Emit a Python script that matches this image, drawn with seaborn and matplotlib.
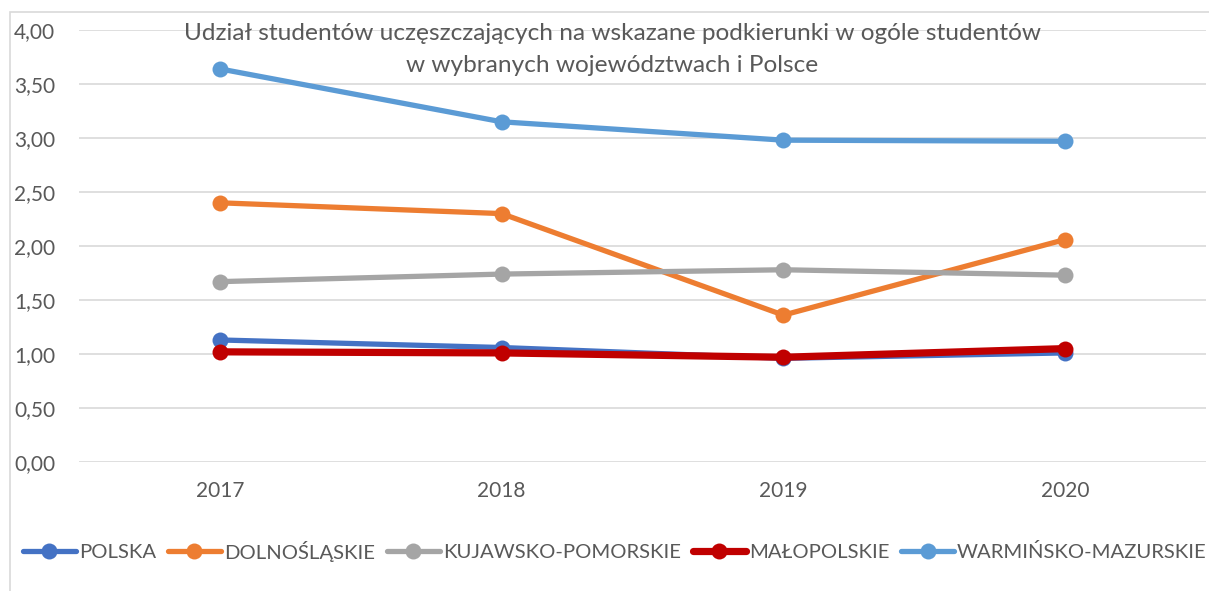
import pandas as pd
import matplotlib.pyplot as plt
import matplotlib.patches as mpatches
import seaborn as sns

years = ["2017", "2018", "2019", "2020"]
polska = [1.13, 1.06, 0.96, 1.01]
dolnoslaskie = [2.40, 2.30, 1.36, 2.06]
kujawsko = [1.67, 1.74, 1.78, 1.73]
malopolskie = [1.02, 1.01, 0.97, 1.05]
warminsko = [3.64, 3.15, 2.98, 2.97]

series = {
    "POLSKA": polska,
    "DOLNOŚLĄSKIE": dolnoslaskie,
    "KUJAWSKO-POMORSKIE": kujawsko,
    "MAŁOPOLSKIE": malopolskie,
    "WARMIŃSKO-MAZURSKIE": warminsko,
}
colors = ["#4472c4", "#ed7d31", "#a5a5a5", "#c00000", "#5b9bd5"]
widths = [3.8, 3.8, 3.8, 5.2, 3.8]

rows = []
for name, vals in series.items():
    for yr, v in zip(years, vals):
        rows.append({"rok": yr, "wartosc": v, "region": name})
df = pd.DataFrame(rows)

sns.set_style("white")
plt.rcParams["font.family"] = ["Lato", "DejaVu Sans"]
txt = "#595959"

fig = plt.figure(figsize=(12.09, 5.91), dpi=100)
ax = fig.add_axes([79 / 1209, 1 - 462 / 591, 1127 / 1209, 432 / 591])

# one call per region so the red line can be drawn thicker
for (name, vals), c, w in zip(series.items(), colors, widths):
    sub = df[df["region"] == name]
    sns.lineplot(data=sub, x="rok", y="wartosc", color=c, marker="o",
                 markersize=11.5, markeredgewidth=0, linewidth=w, ax=ax)

ax.set_xlim(-0.5, 3.5)
ax.set_ylim(0, 4)
ax.set_yticks([i * 0.5 for i in range(9)])
ax.set_yticklabels([f"{i * 0.5:.2f}".replace(".", ",") for i in range(9)])
ax.yaxis.grid(True, color="#d9d9d9", linewidth=1.2)
ax.set_axisbelow(True)
for s in ax.spines.values():
    s.set_visible(False)
ax.tick_params(axis="y", length=0, pad=17, labelsize=15, labelcolor=txt)
ax.tick_params(axis="x", length=0, pad=14, labelsize=15, labelcolor=txt)
ax.set_xlabel("")
ax.set_ylabel("")

fig.text(612 / 1209, 1 - 33 / 591, "Udział studentów uczęszczających na wskazane podkierunki w ogóle studentów",
         ha="center", va="center", fontsize=17.6, color=txt)
fig.text(612 / 1209, 1 - 66 / 591, "w wybranych województwach i Polsce",
         ha="center", va="center", fontsize=17.6, color=txt)

handles = [plt.Line2D([], [], color=c, linewidth=w, marker="o", markersize=11.5, markeredgewidth=0)
           for c, w in zip(colors, widths)]
fig.legend(handles, list(series.keys()), loc="center", bbox_to_anchor=(615 / 1209, 1 - 551 / 591),
           ncol=5, frameon=False, fontsize=14.6, labelcolor=txt, handlelength=2.6,
           handletextpad=0.15, columnspacing=0.6)

fig.patches.append(mpatches.Rectangle((10 / 1209, -0.1), 1.2, 1 - 12 / 591 + 0.1,
                                      transform=fig.transFigure, fill=False,
                                      edgecolor="#d9d9d9", linewidth=1.2))

fig.savefig("out.png", dpi=100)
